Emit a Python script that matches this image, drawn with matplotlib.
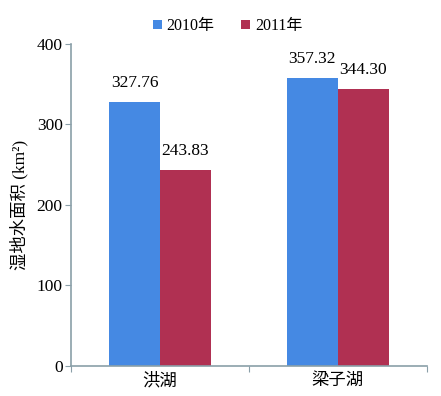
import numpy as np
import matplotlib.pyplot as plt

plt.rcParams['font.family'] = ['Liberation Serif', 'Noto Sans CJK SC', 'DejaVu Sans']

lakes = ['洪湖', '梁子湖']
years = ['2010年', '2011年']
area_2010 = [327.76, 357.32]
area_2011 = [243.83, 344.30]
colors = ['#4589E3', '#B03052']
axis_color = '#8A9FA8'

fig = plt.figure(figsize=(4.41, 3.96), dpi=100)
ax = fig.add_axes([0.161, 0.076, 0.807, 0.813])

x = np.arange(len(lakes))
w = 0.287
b1 = ax.bar(x - w / 2, area_2010, width=w, color=colors[0], label=years[0])
b2 = ax.bar(x + w / 2, area_2011, width=w, color=colors[1], label=years[1])
for bars in (b1, b2):
    ax.bar_label(bars, labels=['%.2f' % v for v in bars.datavalues],
                 padding=8, fontsize=12.5)

ax.set_xlim(-0.5, 1.5)
ax.set_ylim(0, 400)
ax.set_yticks([0, 100, 200, 300, 400])
ax.set_xticks([-0.5, 0.5, 1.5])
ax.set_xticklabels([])
ax.set_xticks(x, minor=True)
ax.set_xticklabels(lakes, minor=True, fontsize=12.5)
ax.tick_params(axis='x', which='minor', length=0, pad=5)
ax.tick_params(axis='x', which='major', length=4, color=axis_color)
ax.tick_params(axis='y', length=4, color=axis_color, labelsize=12.5, pad=2)

for s in ['top', 'right']:
    ax.spines[s].set_visible(False)
for s in ['left', 'bottom']:
    ax.spines[s].set_color(axis_color)
    ax.spines[s].set_linewidth(1.2)

ax.set_ylabel('湿地水面积 (km²)', fontsize=12.5, labelpad=6)

fig.legend(loc='upper center', bbox_to_anchor=(0.516, 0.99), ncol=2, frameon=False,
           fontsize=11.5, handlelength=0.55, handleheight=0.55, columnspacing=1.7,
           handletextpad=0.3)

fig.savefig('out.png', dpi=100)
